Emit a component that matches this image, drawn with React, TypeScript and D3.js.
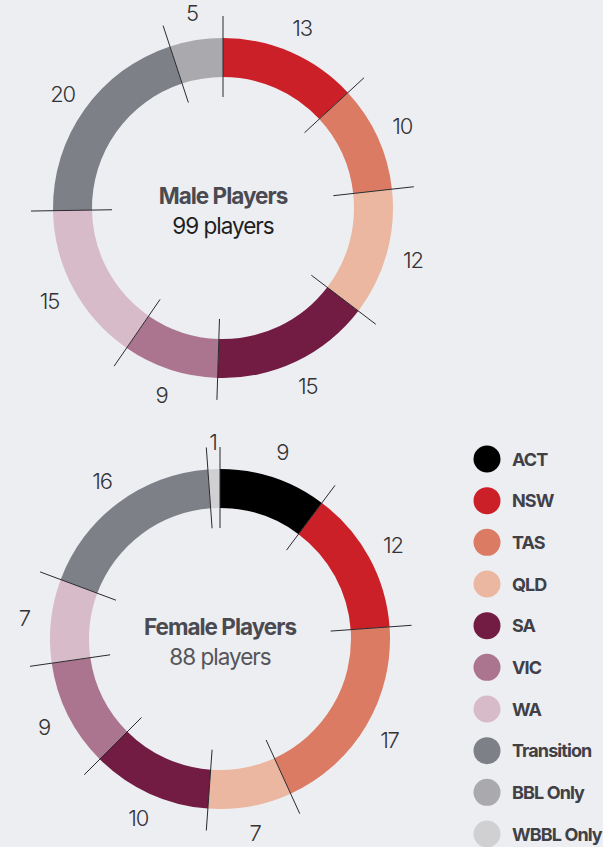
import React from "react";
import * as d3 from "d3";

// segments run clockwise from 12 o'clock
const maleCategories = ["NSW", "TAS", "QLD", "SA", "VIC", "WA", "Transition", "BBL Only"];
const maleValues = [13, 10, 12, 15, 9, 15, 20, 5];

const femaleCategories = ["ACT", "NSW", "TAS", "QLD", "SA", "VIC", "WA", "Transition", "WBBL Only"];
const femaleValues = [9, 12, 17, 7, 10, 9, 7, 16, 1];

const legendCategories = ["ACT", "NSW", "TAS", "QLD", "SA", "VIC", "WA", "Transition", "BBL Only", "WBBL Only"];
const legendColors = ["#000000", "#cc2029", "#dc7b63", "#ebb7a0", "#721b43", "#ab758f", "#d8bbc9", "#7e8088", "#a9a9ae", "#d0d0d3"];

const W = 603;
const H = 847;
const INNER = 131;
const OUTER = 170;
const FONT = "Inter, 'Noto Sans', sans-serif";

const color = d3.scaleOrdinal<string, string>().domain(legendCategories).range(legendColors);

type DonutProps = {
  cx: number;
  cy: number;
  categories: string[];
  values: number[];
  title: string;
  subtitle: string;
  subColor: string;
};

function Donut({ cx, cy, categories, values, title, subtitle, subColor }: DonutProps) {
  const rows = categories.map((c, i) => ({ cat: c, value: values[i] }));
  const pie = d3.pie<{ cat: string; value: number }>().sort(null).value((d) => d.value);
  const arcs = pie(rows);
  const arc = d3.arc<d3.PieArcDatum<{ cat: string; value: number }>>().innerRadius(INNER).outerRadius(OUTER);
  const labelR = 197;

  return (
    <g transform={`translate(${cx},${cy})`}>
      {arcs.map((a) => (
        <path key={a.data.cat} d={arc(a) || ""} fill={color(a.data.cat)} />
      ))}
      {arcs.map((a, i) => {
        const ang = a.startAngle;
        const s = Math.sin(ang);
        const c = -Math.cos(ang);
        return (
          <line key={"l" + i} x1={s * 111} y1={c * 111} x2={s * 192} y2={c * 192} stroke="#2a2a2e" strokeWidth={1} />
        );
      })}
      {arcs.map((a, i) => {
        const mid = (a.startAngle + a.endAngle) / 2;
        return (
          <text
            key={"t" + i}
            x={Math.sin(mid) * labelR}
            y={-Math.cos(mid) * labelR}
            textAnchor="middle"
            dominantBaseline="central"
            fontFamily={FONT}
            fontSize={22}
            fontWeight={300}
            letterSpacing={-1.3}
            fill="#333336"
          >
            {a.data.value}
          </text>
        );
      })}
      <text y={-4} textAnchor="middle" fontFamily={FONT} fontSize={22.5} fontWeight={700} letterSpacing={-1} fill="#4a4a50">
        {title}
      </text>
      <text y={26} textAnchor="middle" fontFamily={FONT} fontSize={22.5} fontWeight={400} letterSpacing={-1} fill={subColor}>
        {subtitle}
      </text>
    </g>
  );
}

export default function App() {
  const maleTotal = d3.sum(maleValues);
  const femaleTotal = d3.sum(femaleValues);
  const legendY = d3.scalePoint<string>().domain(legendCategories).range([459, 834]);

  return (
    <svg width={W} height={H} style={{ position: "absolute", left: 0, top: 0 }}>
      <rect width={W} height={H} fill="#edeef2" />
      <Donut
        cx={223}
        cy={208}
        categories={maleCategories}
        values={maleValues}
        title="Male Players"
        subtitle={`${maleTotal} players`}
        subColor="#1e1e22"
      />
      <Donut
        cx={220}
        cy={639}
        categories={femaleCategories}
        values={femaleValues}
        title="Female Players"
        subtitle={`${femaleTotal} players`}
        subColor="#55555a"
      />
      <g>
        {legendCategories.map((c) => (
          <g key={c} transform={`translate(487,${legendY(c)})`}>
            <circle r={13.5} fill={color(c)} />
            <text x={25} dominantBaseline="central" fontFamily={FONT} fontSize={18} fontWeight={700} letterSpacing={-0.9} fill="#404046">
              {c}
            </text>
          </g>
        ))}
      </g>
    </svg>
  );
}
